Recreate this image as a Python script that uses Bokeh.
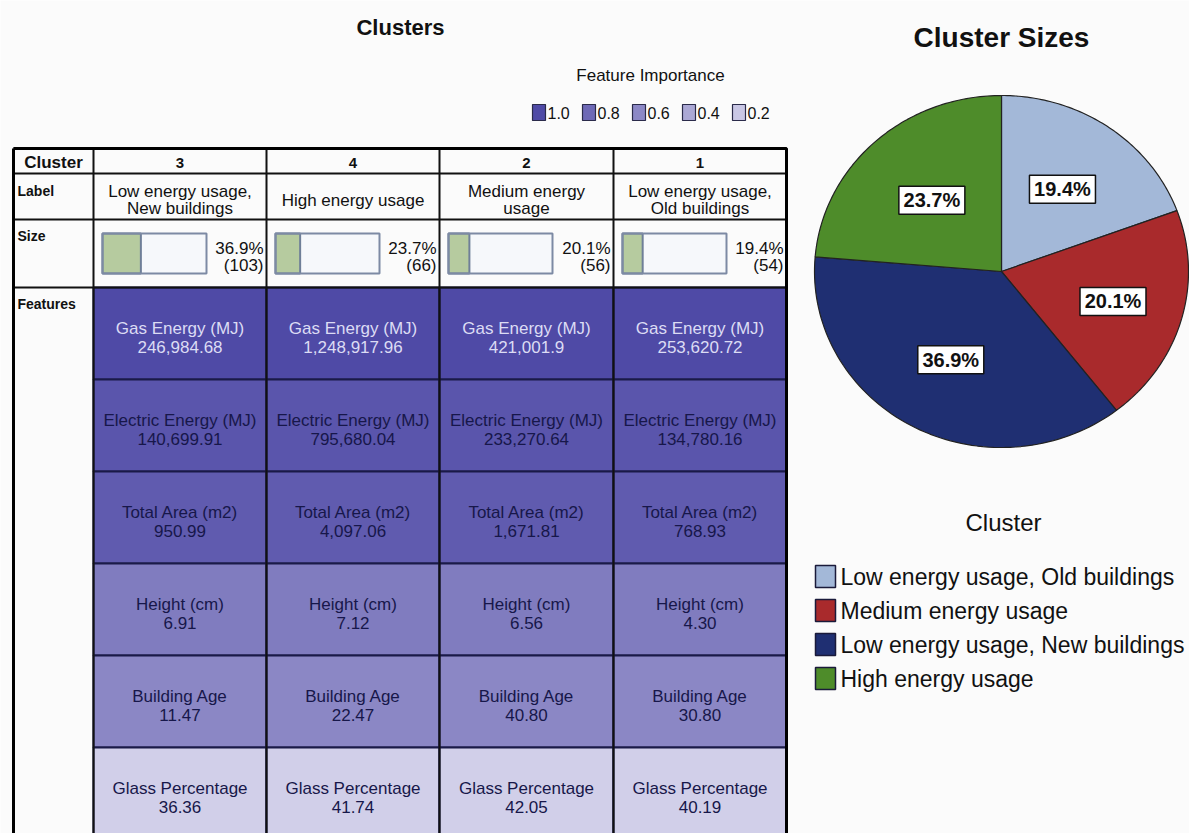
import numpy as np
from bokeh.plotting import figure
from bokeh.models import Range1d
from bokeh.core.properties import value
from bokeh.embed import file_html
from bokeh.resources import INLINE

# ---------------- data ----------------
clusters = ["3", "4", "2", "1"]
cluster_labels = ["Low energy usage,\nNew buildings", "High energy usage",
                  "Medium energy\nusage", "Low energy usage,\nOld buildings"]
size_pct = [36.9, 23.7, 20.1, 19.4]
size_n = [103, 66, 56, 54]

features = ["Gas Energy (MJ)", "Electric Energy (MJ)", "Total Area (m2)",
            "Height (cm)", "Building Age", "Glass Percentage"]
importance = [1.0, 0.93, 0.89, 0.68, 0.61, 0.15]
gas_energy = ["246,984.68", "1,248,917.96", "421,001.9", "253,620.72"]
electric_energy = ["140,699.91", "795,680.04", "233,270.64", "134,780.16"]
total_area = ["950.99", "4,097.06", "1,671.81", "768.93"]
height_cm = ["6.91", "7.12", "6.56", "4.30"]
building_age = ["11.47", "22.47", "40.80", "30.80"]
glass_pct = ["36.36", "41.74", "42.05", "40.19"]
feature_values = [gas_energy, electric_energy, total_area, height_cm, building_age, glass_pct]

imp_levels = [1.0, 0.8, 0.6, 0.4, 0.2]

pie_names = ["Low energy usage, Old buildings", "Medium energy usage",
             "Low energy usage, New buildings", "High energy usage"]
pie_pct = [19.4, 20.1, 36.9, 23.7]
pie_colors = ["#a3b8d8", "#a92a2c", "#1f2f72", "#4e8c2a"]

# ---------------- layout / style ----------------
W, H = 1189, 833
FONT = value("Liberation Sans")


def Y(t):
    return H - t


def imp_color(v):
    light = np.array([0xe8, 0xe6, 0xf5])
    dark = np.array([0x4f, 0x4a, 0xa6])
    c = light + (dark - light) * v
    return "#%02x%02x%02x" % tuple(int(round(x)) for x in c)


p = figure(width=W, height=H, x_range=Range1d(0, W), y_range=Range1d(0, H),
           output_backend="svg", toolbar_location=None, min_border=0,
           background_fill_color="#fbfbfb", border_fill_color="#fbfbfb")
p.axis.visible = False
p.grid.visible = False
p.outline_line_color = None


def txt(x, y, s, size, bold=False, align="center", color="#111111", font=FONT):
    p.text(x=[x], y=[Y(y)], text=[s], text_font=font, text_font_size=size,
           text_font_style="bold" if bold else "normal", text_align=align,
           text_baseline="middle", text_color=color)


# titles
txt(400, 27, "Clusters", "22px", bold=True)
txt(1001, 37, "Cluster Sizes", "28px", bold=True)

# feature importance legend
txt(650, 75, "Feature Importance", "17px")
for i, lv in enumerate(imp_levels):
    x0 = 532 + 50 * i
    p.quad(left=[x0], right=[x0 + 13], top=[Y(104)], bottom=[Y(120)],
           fill_color=imp_color(lv), line_color="#2a2a4a", line_width=1.2)
    txt(x0 + 15, 112, f"{lv:.1f}", "16px", align="left")

# ---------------- table ----------------
col_edges = [13, 93, 266, 439, 613, 786]
row_hdr = [148, 173, 219, 287]
FEAT_H = 92
feat_tops = [row_hdr[3] + FEAT_H * k for k in range(len(features))]
table_bottom = feat_tops[-1] + FEAT_H

# feature cells
for r, (fname, vals, imp) in enumerate(zip(features, feature_values, importance)):
    top = feat_tops[r]
    for c, v in enumerate(vals):
        l, rr = col_edges[c + 1], col_edges[c + 2]
        p.quad(left=[l], right=[rr], top=[Y(top)], bottom=[Y(top + FEAT_H)],
               fill_color=imp_color(imp), line_color="#1a1a48", line_width=2)
        tc = "#dcdcf4" if imp >= 0.98 else "#17174a"
        cx = (l + rr) / 2
        txt(cx, top + 41, fname, "17px", color=tc)
        txt(cx, top + 59, v, "17px", color=tc)

# header grid lines
line_kw = dict(line_color="#111111", line_width=2)
for yy in row_hdr:
    p.line([col_edges[0], col_edges[-1]], [Y(yy), Y(yy)], **line_kw)
for xx in col_edges[1:-1]:
    p.line([xx, xx], [Y(row_hdr[0]), Y(table_bottom)], **line_kw)
# outer border
p.line([col_edges[0], col_edges[-1], col_edges[-1]], [Y(row_hdr[0]), Y(row_hdr[0]), Y(table_bottom)],
       line_color="#000000", line_width=3)
p.line([col_edges[0], col_edges[0]], [Y(row_hdr[0]), Y(table_bottom)],
       line_color="#000000", line_width=3)

# first column labels
txt((col_edges[0] + col_edges[1]) / 2, 162, "Cluster", "17px", bold=True)
txt(17, 190, "Label", "14px", bold=True, align="left")
txt(17, 235, "Size", "14px", bold=True, align="left")
txt(17, 303, "Features", "14px", bold=True, align="left")

for c, cl in enumerate(clusters):
    l, rr = col_edges[c + 1], col_edges[c + 2]
    cx = (l + rr) / 2
    txt(cx, 162, cl, "15px", bold=True)
    lines = cluster_labels[c].split("\n")
    if len(lines) == 1:
        txt(cx, 200, lines[0], "17px")
    else:
        txt(cx, 191, lines[0], "17px")
        txt(cx, 208, lines[1], "17px")
    # size bar
    bx0, bw = l + 9, 104
    p.quad(left=[bx0], right=[bx0 + bw], top=[Y(233)], bottom=[Y(273)],
           fill_color="#f6f8fb", line_color=None)
    p.quad(left=[bx0], right=[bx0 + bw * size_pct[c] / 100.0], top=[Y(233)], bottom=[Y(273)],
           fill_color="#b6cb9f", line_color="#6f7f98", line_width=2)
    p.quad(left=[bx0], right=[bx0 + bw], top=[Y(233)], bottom=[Y(273)],
           fill_color=None, line_color="#7d8aa4", line_width=2)
    txt(rr - 3, 248, f"{size_pct[c]:.1f}%", "17px", align="right")
    txt(rr - 3, 265, f"({size_n[c]})", "17px", align="right")

# ---------------- pie (slightly elliptical, as in the reference) ----------------
pcx, pcy, prx, pry = 1001, 271, 187, 176
fr = np.array(pie_pct) / np.sum(pie_pct)
ends = np.pi / 2 - 2 * np.pi * np.cumsum(fr)
starts = np.concatenate([[np.pi / 2], ends[:-1]])
xs, ys = [], []
for a0, a1 in zip(starts, ends):
    t = np.linspace(a0, a1, 80)
    xs.append([pcx] + list(pcx + prx * np.cos(t)))
    ys.append([Y(pcy)] + list(Y(pcy) + pry * np.sin(t)))
p.patches(xs=xs, ys=ys, fill_color=pie_colors, line_color="#222222", line_width=1.2)
mids = (starts + ends) / 2
lf = np.array([0.57, 0.62, 0.57, 0.55])
lx = pcx + lf * prx * np.cos(mids)
ly = Y(pcy) + lf * pry * np.sin(mids)
p.rect(x=list(lx), y=list(ly), width=66, height=28, fill_color="#ffffff",
       line_color="#111111", line_width=1.5)
p.text(x=list(lx), y=list(ly), text=[f"{v:.1f}%" for v in pie_pct], text_font=FONT,
       text_font_size="20px", text_font_style="bold", text_align="center",
       text_baseline="middle", text_color="#111111")

# pie legend
txt(1003, 522, "Cluster", "24px")
for i, (nm, col) in enumerate(zip(pie_names, pie_colors)):
    yc = 576 + 34 * i
    p.quad(left=[815], right=[835], top=[Y(yc - 11)], bottom=[Y(yc + 11)],
           fill_color=col, line_color="#1a1a3a", line_width=1.5)
    txt(840, yc, nm, "23px", align="left")

open("out.html", "w").write(file_html(p, INLINE))
